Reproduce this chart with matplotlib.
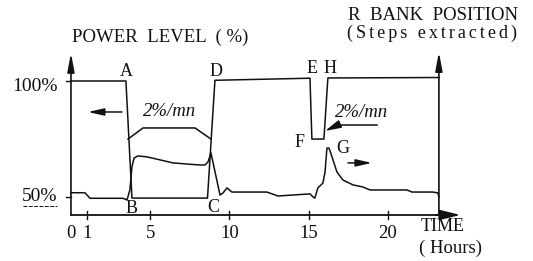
import matplotlib
matplotlib.use('Agg')
import matplotlib.pyplot as plt

# power level (%) vs time (hours)
power_t = [0, 3.47, 3.85, 8.62, 9.09, 15.09, 15.21, 15.97, 16.22, 23.23]
power_p = [100, 100, 49.4, 49.4, 100.3, 101.2, 74.9, 74.9, 101.3, 101.5]

# 2%/mn ramp envelope between A-B and C-D
ramp_t = [3.6, 4.55, 7.83, 8.84]
ramp_p = [74.9, 79.7, 79.7, 74.9]

# R bank position (steps extracted), drawn on the power scale
rod_t = [0, 0.88, 1.07, 1.20, 3.28, 3.54, 3.72, 3.85, 3.98, 4.23, 4.80, 5.62,
         6.44, 7.32, 8.14, 8.46, 8.65, 8.84, 9.41, 9.60, 9.85, 10.16, 12.37,
         13.07, 15.09, 15.28, 15.40, 15.59, 15.91, 16.04, 16.16, 16.29, 16.48,
         16.79, 17.17, 17.80, 18.43, 18.88, 21.21, 21.53, 22.85, 23.17, 23.23]
rod_p = [51.7, 51.7, 50.3, 49.3, 49.3, 48.6, 52.9, 62.8, 66.7, 67.6, 67.2, 65.9,
         64.6, 64.1, 63.7, 63.7, 65.0, 68.9, 50.7, 51.6, 53.8, 52.0, 52.0,
         50.3, 51.2, 49.9, 49.4, 53.8, 55.9, 60.7, 71.0, 71.0, 67.2,
         60.7, 57.2, 55.1, 54.2, 52.9, 52.9, 52.0, 52.0, 51.6, 49.9]

tick_vals = [1, 5, 10, 15, 20]
tick_labels = ['0', '1', '5', '10', '15', '20']
tick_label_pos = [0, 1, 5, 10, 15, 20]

FONT = 'Liberation Serif'
K = '#111111'


def spaced(s):
    # the scanned original is typeset with loose letter spacing
    return '\u2006'.join(s)


fig = plt.figure(figsize=(5.33, 2.61), dpi=100, facecolor='white')
ax = fig.add_axes([0, 0, 1, 1])
ax.set_xlim(-4.48, 29.17)
ax.set_ylim(22.2, 135.0)
ax.axis('off')

T_END = 23.23
Y0 = 42.1

# axes drawn by hand, like the scanned figure
ax.plot([0, T_END], [Y0, Y0], color=K, lw=1.3)
ax.annotate('', xy=(24.6, Y0), xytext=(T_END - 0.2, Y0),
            arrowprops=dict(arrowstyle='-|>,head_length=0.9,head_width=0.22',
                            color=K, lw=1.3, mutation_scale=14,
                            shrinkA=0, shrinkB=0))
ax.annotate('', xy=(0, 112.1), xytext=(0, Y0),
            arrowprops=dict(arrowstyle='-|>,head_length=0.8,head_width=0.15',
                            color=K, lw=1.2, mutation_scale=14,
                            shrinkA=0, shrinkB=0))
ax.annotate('', xy=(T_END, 112.5), xytext=(T_END, Y0),
            arrowprops=dict(arrowstyle='-|>,head_length=0.8,head_width=0.15',
                            color=K, lw=1.2, mutation_scale=14,
                            shrinkA=0, shrinkB=0))
for tv in tick_vals:
    ax.plot([tv, tv], [40.4, 43.9], color=K, lw=1.0)
for yv in (100, 50):
    ax.plot([-0.3, 0], [yv, yv], color=K, lw=1.0)

# curves
ax.plot(power_t, power_p, color=K, lw=1.1)
ax.plot(ramp_t, ramp_p, color=K, lw=1.1)
ax.plot(rod_t, rod_p, color=K, lw=1.1)

# titles
ax.text(5.62, 119.0, 'POWER  LEVEL  ( %)', fontsize=13.5, family=FONT,
        ha='center', va='center', color=K)
ax.text(22.85, 128.5, 'R  BANK  POSITION', fontsize=13.5, family=FONT,
        ha='center', va='center', color=K)
ax.text(22.79, 120.7, spaced('(Steps extracted)'), fontsize=13, family=FONT,
        ha='center', va='center', color=K)
ax.text(23.48, 36.9, 'TIME', fontsize=13, family=FONT,
        ha='center', va='center', color=K)
ax.text(23.93, 27.8, '( Hours)', fontsize=13.5, family=FONT,
        ha='center', va='center', color=K)

# y labels
ax.text(-0.85, 97.8, '100%', fontsize=14, family=FONT,
        ha='right', va='center', color=K)
ax.text(-0.85, 49.9, '50%', fontsize=14, family=FONT,
        ha='right', va='center', color=K)
ax.plot([-3.0, -0.85], [46.0, 46.0], color=K, lw=0.7, ls=(0, (4, 1.5)))

# x tick labels
for lbl, pos in zip(tick_labels, tick_label_pos):
    ax.text(pos, 34.3, lbl, fontsize=13.5, family=FONT,
            ha='center', va='center', color=K)

# point letters
for lbl, tx, py in [('A', 3.47, 104.3), ('D', 9.15, 104.3), ('E', 15.21, 105.6),
                    ('H', 16.35, 105.6), ('B', 3.85, 45.1), ('C', 8.96, 45.5),
                    ('F', 14.46, 73.6), ('G', 17.17, 71.0)]:
    ax.text(tx, py, lbl, fontsize=13, family=FONT, ha='center', va='center',
            color=K)

# ramp rate notes
ax.text(6.25, 86.6, '2%/mn', fontsize=13.5, family=FONT, style='italic',
        ha='center', va='center', color=K)
ax.text(18.37, 86.2, '2%/mn', fontsize=13.5, family=FONT, style='italic',
        ha='center', va='center', color=K)
ax.plot([16.86, 19.32], [81.0, 81.0], color=K, lw=1.1)
ax.annotate('', xy=(16.04, 78.4), xytext=(16.86, 81.0),
            arrowprops=dict(arrowstyle='-|>,head_length=0.8,head_width=0.2',
                            color=K, lw=1.1, mutation_scale=12,
                            shrinkA=0, shrinkB=0))

# direction arrows (which axis each curve belongs to)
ax.annotate('', xy=(1.07, 86.6), xytext=(3.22, 86.6),
            arrowprops=dict(arrowstyle='-|>,head_length=0.8,head_width=0.18',
                            color=K, lw=1.1, mutation_scale=12,
                            shrinkA=0, shrinkB=0))
ax.annotate('', xy=(19.0, 64.6), xytext=(17.49, 64.6),
            arrowprops=dict(arrowstyle='-|>,head_length=0.8,head_width=0.18',
                            color=K, lw=1.1, mutation_scale=12,
                            shrinkA=0, shrinkB=0))

fig.savefig('out.png', dpi=100, facecolor='white')
